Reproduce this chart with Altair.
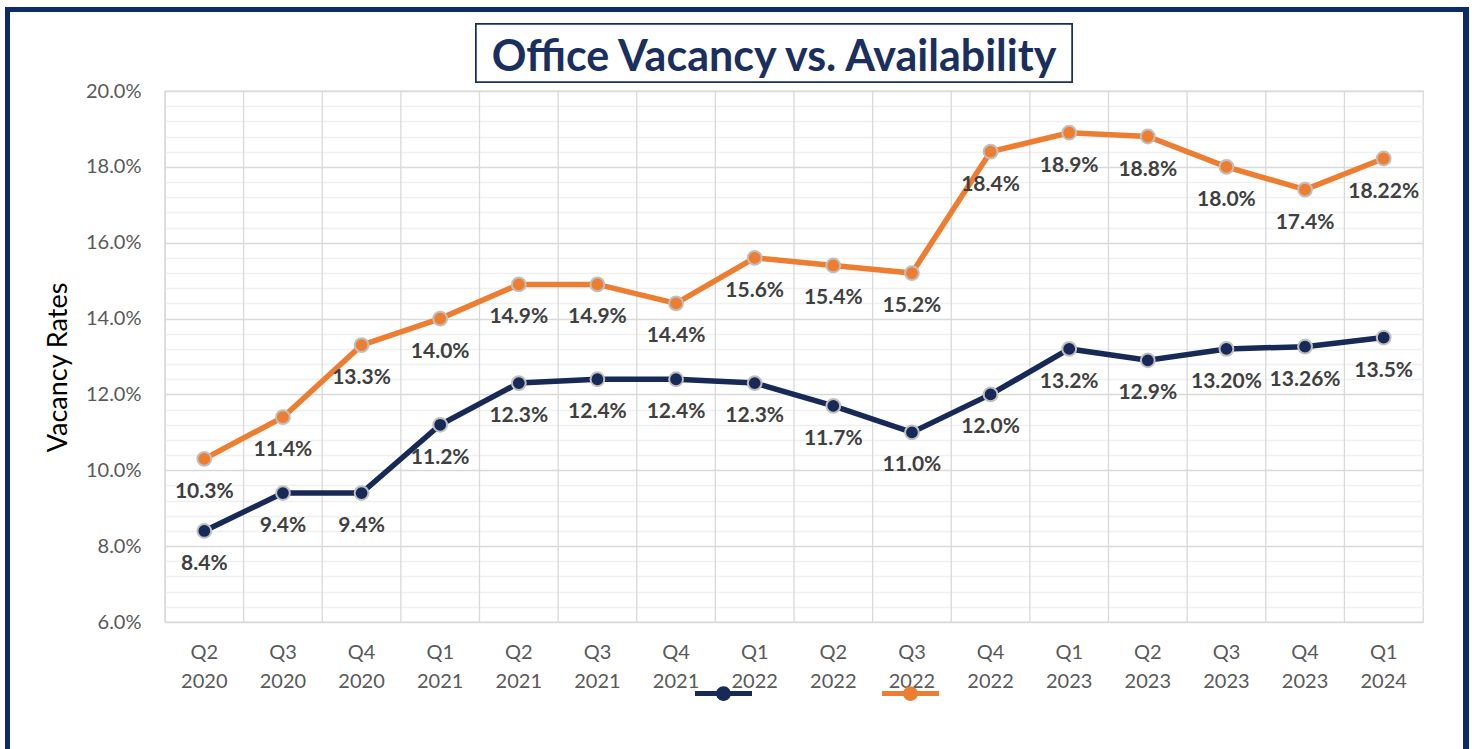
import altair as alt
import pandas as pd

quarters = ["Q2 2020", "Q3 2020", "Q4 2020", "Q1 2021", "Q2 2021", "Q3 2021",
            "Q4 2021", "Q1 2022", "Q2 2022", "Q3 2022", "Q4 2022", "Q1 2023",
            "Q2 2023", "Q3 2023", "Q4 2023", "Q1 2024"]
vacancy = [8.4, 9.4, 9.4, 11.2, 12.3, 12.4, 12.4, 12.3, 11.7, 11.0, 12.0, 13.2,
           12.9, 13.20, 13.26, 13.5]
vacancy_labels = ["8.4%", "9.4%", "9.4%", "11.2%", "12.3%", "12.4%", "12.4%", "12.3%",
                  "11.7%", "11.0%", "12.0%", "13.2%", "12.9%", "13.20%", "13.26%", "13.5%"]
availability = [10.3, 11.4, 13.3, 14.0, 14.9, 14.9, 14.4, 15.6, 15.4, 15.2, 18.4, 18.9,
                18.8, 18.0, 17.4, 18.22]
availability_labels = ["10.3%", "11.4%", "13.3%", "14.0%", "14.9%", "14.9%", "14.4%", "15.6%",
                       "15.4%", "15.2%", "18.4%", "18.9%", "18.8%", "18.0%", "17.4%", "18.22%"]
series_names = ["Vacancy", "Availability"]
series_colors = ["#172a57", "#ed7d31"]
y_ticks = [6.0, 6.4, 6.8, 7.2, 7.6, 8.0, 8.4, 8.8, 9.2, 9.6, 10.0, 10.4, 10.8, 11.2, 11.6,
           12.0, 12.4, 12.8, 13.2, 13.6, 14.0, 14.4, 14.8, 15.2, 15.6, 16.0, 16.4, 16.8,
           17.2, 17.6, 18.0, 18.4, 18.8, 19.2, 19.6, 20.0]
title_text = "Office Vacancy vs. Availability"
y_title = "Vacancy Rates"

rows = []
for name, vals, labs in [(series_names[0], vacancy, vacancy_labels),
                         (series_names[1], availability, availability_labels)]:
    for q, v, l in zip(quarters, vals, labs):
        rows.append({"quarter": q, "series": name, "value": v, "label": l})
df = pd.DataFrame(rows)
qdf = pd.DataFrame({"quarter": quarters})

FONT = "Lato"
W, H = 1258, 531

x_axis = alt.Axis(
    title=None, domain=False, ticks=False, grid=False,
    labelExpr="split(datum.label, ' ')", labelAngle=0,
    labelFont=FONT, labelFontSize=20, labelColor="#595959",
    labelLineHeight=29, labelPadding=20,
)
x_scale = alt.Scale(type="band", paddingInner=0, paddingOuter=0)
y_scale = alt.Scale(domain=[6, 20], nice=False, zero=False)
y_axis = alt.Axis(
    values=y_ticks, domain=False, ticks=False, grid=True,
    gridColor={"condition": {"test": "abs(datum.value/2 - round(datum.value/2)) < 0.01",
                             "value": "#d9d9d9"}, "value": "#f0f0f0"},
    gridWidth=1.3,
    labelExpr="abs(datum.value/2 - round(datum.value/2)) < 0.01 ? format(datum.value, '.1f') + '%' : ''",
    labelFont=FONT, labelFontSize=20, labelColor="#595959", labelPadding=24,
    title=y_title, titleFont=FONT, titleFontSize=27, titleFontWeight="normal",
    titleColor="#000000", titleAngle=-90, titleX=-107, titleY=276,
    titleAlign="center", titleBaseline="middle",
)
color_scale = alt.Scale(domain=series_names, range=series_colors)
legend = alt.Legend(
    title=None, orient="none", legendX=530, legendY=574, direction="horizontal",
    symbolType="M-1,-0.09 L1,-0.09 L1,0.09 L-1,0.09 Z M0.26,0 A0.26,0.26 0 1,1 -0.26,0 A0.26,0.26 0 1,1 0.26,0 Z",
    symbolSize=3249, symbolStrokeWidth=0, labelExpr="''", labelOffset=0,
    columnPadding=130, symbolOpacity=1,
)

vgrid = alt.Chart(qdf).mark_rule(color="#d9d9d9", strokeWidth=1.3).encode(
    x=alt.X("quarter:N", sort=quarters, scale=x_scale, axis=x_axis, bandPosition=0),
)

base = alt.Chart(df).encode(
    x=alt.X("quarter:N", sort=quarters, scale=x_scale, axis=x_axis, bandPosition=0.5),
    y=alt.Y("value:Q", scale=y_scale, axis=y_axis),
)

lines = base.mark_line(strokeWidth=5.5).encode(
    color=alt.Color("series:N", scale=color_scale, legend=legend),
    detail="series:N",
)
points = base.mark_circle(size=190, opacity=1, stroke="#bfbfbf", strokeWidth=2).encode(
    color=alt.Color("series:N", scale=color_scale, legend=legend),
)
labels = base.mark_text(font=FONT, fontSize=21, fontWeight="bold", color="#404040",
                        dy=33, baseline="middle").encode(text="label:N")

frame = alt.Chart(qdf).mark_rect(fill=None, stroke="#0f2a68", strokeWidth=5).encode(
    x=alt.value(-157.5), x2=alt.value(1301), y=alt.value(-81.5), y2=alt.value(680)
)
title_box = alt.Chart(qdf).mark_rect(fill="white", stroke="#1b2f5e", strokeWidth=1.5).encode(
    x=alt.value(311), x2=alt.value(907), y=alt.value(-67), y2=alt.value(-9)
)
title = alt.Chart(pd.DataFrame({"t": [title_text]})).mark_text(
    font=FONT, fontSize=43, fontWeight="bold", color="#1b2f5e",
    align="center", baseline="alphabetic",
).encode(x=alt.value(609), y=alt.value(-20), text="t:N")

chart = alt.layer(vgrid, lines, points, labels, frame, title_box, title).properties(
    width=W, height=H,
    autosize=alt.AutoSizeParams(type="none"),
    padding={"left": 165, "top": 91, "right": 52, "bottom": 127},
    background="white",
).configure_view(stroke="#d9d9d9", strokeWidth=1.3)

chart.save("out.html", embed_options={"renderer": "svg", "actions": False})
